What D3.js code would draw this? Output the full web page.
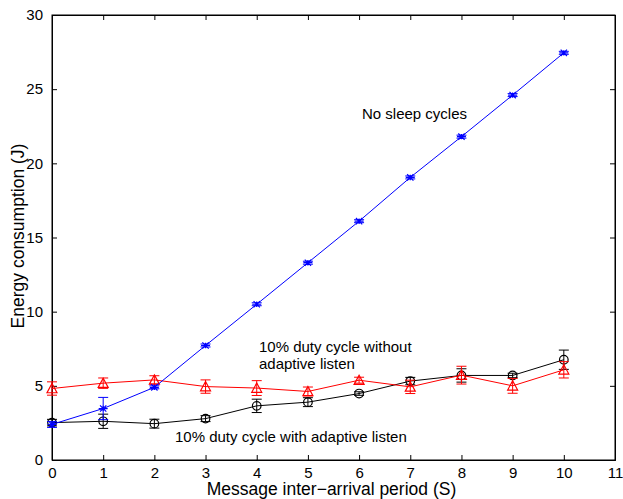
<!DOCTYPE html>
<html><head><meta charset="utf-8">
<script src="https://cdn.jsdelivr.net/npm/d3@7"></script>
<style>body{margin:0;background:#fff}svg{display:block}text{font-family:"Liberation Sans",Arial,sans-serif}</style>
</head><body><svg id="c" width="623" height="499"></svg>
<script>
const periods = [0,1,2,3,4,5,6,7,8,9,10];
const noSleep = [2.4,3.47,4.9,7.72,10.5,13.3,16.1,19.05,21.8,24.6,27.45];
const noSleepErr = [0.2,0.75,0.1,0.1,0.1,0.1,0.1,0.1,0.1,0.1,0.1];
const dutyNoAdaptive = [4.82,5.18,5.4,4.95,4.85,4.62,5.38,4.93,5.72,5.0,6.08];
const dutyNoAdaptiveErr = [0.45,0.35,0.28,0.45,0.5,0.3,0.2,0.45,0.6,0.5,0.55];
const dutyAdaptive = [2.52,2.61,2.45,2.79,3.65,3.9,4.48,5.32,5.7,5.7,6.76];
const dutyAdaptiveErr = [0.22,0.48,0.3,0.2,0.45,0.3,0.12,0.25,0.45,0.15,0.65];
const xTicks = [0,1,2,3,4,5,6,7,8,9,10,11];
const yTicks = [0,5,10,15,20,25,30];

const svg = d3.select('#c');
const L=52,R=615,T=15,B=460;
const x = d3.scaleLinear().domain([0,11]).range([L,R]);
const y = d3.scaleLinear().domain([0,30]).range([B,T]);

svg.append('rect').attr('x',L).attr('y',T).attr('width',R-L).attr('height',B-T)
  .attr('fill','none').attr('stroke','#000').attr('stroke-width',1);

const tl=5;
const fs='15px';
const xb = svg.append('g').attr('transform',`translate(0,${B})`)
  .call(d3.axisBottom(x).tickValues(xTicks).tickSize(-tl).tickPadding(7).tickFormat(d3.format('d')));
const xt = svg.append('g').attr('transform',`translate(0,${T})`)
  .call(d3.axisTop(x).tickValues(xTicks).tickSize(-tl).tickFormat(''));
const yl = svg.append('g').attr('transform',`translate(${L},0)`)
  .call(d3.axisLeft(y).tickValues(yTicks).tickSize(-tl).tickPadding(9).tickFormat(d3.format('d')));
const yr = svg.append('g').attr('transform',`translate(${R},0)`)
  .call(d3.axisRight(y).tickValues(yTicks).tickSize(-tl).tickFormat(''));
[xb,xt,yl,yr].forEach(g=>{
  g.select('.domain').attr('stroke','#000');
  g.selectAll('.tick line').attr('stroke','#000');
  g.selectAll('text').attr('font-size',fs).attr('fill','#000').attr('font-family','"Liberation Sans",Arial,sans-serif');
});

svg.append('text').attr('x',(L+R)/2-2).attr('y',495).attr('text-anchor','middle')
  .attr('font-size','17.5px').text('Message inter\u2212arrival period (S)');
svg.append('text').attr('transform',`translate(24,236) rotate(-90)`).attr('text-anchor','middle')
  .attr('font-size','17.5px').text('Energy consumption (J)');

function series(vals, errs, color, marker){
  const g = svg.append('g');
  const line = d3.line().x((d,i)=>x(periods[i])).y(d=>y(d));
  g.append('path').datum(vals).attr('d',line).attr('fill','none').attr('stroke',color).attr('stroke-width',1);
  const cw=5;
  vals.forEach((v,i)=>{
    const cx=x(periods[i]), y1=y(v+errs[i]), y2=y(v-errs[i]);
    g.append('line').attr('x1',cx).attr('x2',cx).attr('y1',y1).attr('y2',y2).attr('stroke',color);
    g.append('line').attr('x1',cx-cw).attr('x2',cx+cw).attr('y1',y1).attr('y2',y1).attr('stroke',color);
    g.append('line').attr('x1',cx-cw).attr('x2',cx+cw).attr('y1',y2).attr('y2',y2).attr('stroke',color);
    const cy=y(v);
    if(marker==='star'){
      const s=4.5;
      g.append('path').attr('d',`M${cx-s},${cy}H${cx+s}M${cx-s*0.7},${cy-s*0.7}L${cx+s*0.7},${cy+s*0.7}M${cx-s*0.7},${cy+s*0.7}L${cx+s*0.7},${cy-s*0.7}M${cx},${cy-s*0.6}V${cy+s*0.6}`)
        .attr('stroke',color).attr('stroke-width',1.2).attr('fill','none');
    } else if(marker==='circle'){
      g.append('circle').attr('cx',cx).attr('cy',cy).attr('r',4.3).attr('fill','none').attr('stroke',color).attr('stroke-width',1.2);
    } else {
      const s=5;
      g.append('path').attr('d',`M${cx},${cy-s}L${cx+s},${cy+s*0.85}L${cx-s},${cy+s*0.85}Z`)
        .attr('fill','none').attr('stroke',color).attr('stroke-width',1.2);
    }
  });
}
series(dutyAdaptive,dutyAdaptiveErr,'#000','circle');
series(dutyNoAdaptive,dutyNoAdaptiveErr,'#ff0000','tri');
series(noSleep,noSleepErr,'#0000ff','star');

const ann=[['No sleep cycles',362,119],['10% duty cycle without',259,352],['adaptive listen',259,369],['10% duty cycle with adaptive listen',175,442]];
ann.forEach(a=>svg.append('text').attr('x',a[1]).attr('y',a[2]).attr('font-size','15px').attr('fill','#000').text(a[0]));
</script></body></html>
